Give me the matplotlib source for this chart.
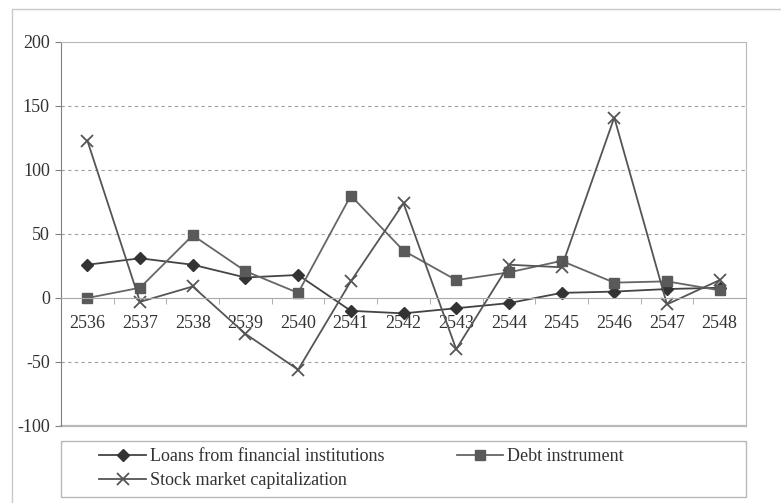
import matplotlib
matplotlib.use("Agg")
import matplotlib.pyplot as plt
from matplotlib.patches import Rectangle

years = ["2536", "2537", "2538", "2539", "2540", "2541", "2542",
         "2543", "2544", "2545", "2546", "2547", "2548"]
loans = [26, 31, 26, 16, 18, -10, -12, -8, -4, 4, 5, 7, 8]
debt = [0, 8, 49, 21, 4, 80, 37, 14, 20, 29, 12, 13, 6]
stock = [123, -3, 9, -28, -56, 13, 74, -40, 26, 24, 141, -5, 14]

plt.rcParams["font.family"] = ["Liberation Serif", "DejaVu Serif"]
plt.rcParams["font.size"] = 13

fig = plt.figure(figsize=(7.81, 5.03), dpi=100)
W, H = 781, 503
ax = fig.add_axes([61 / W, 1 - 426 / H, 685 / W, 384 / H])

# outer chart border (cut off at right/bottom in the scan)
fig.patches.append(Rectangle((12 / W, -0.1), 1.2, 1 - 9 / H + 0.1,
                             transform=fig.transFigure, fill=False,
                             edgecolor="#c8c8c8", linewidth=1.0))

x = list(range(len(years)))
ax.plot(x, loans, color="#444444", lw=1.3, marker="D", ms=6,
        mfc="#333333", mec="#333333", label="Loans from financial institutions")
ax.plot(x, debt, color="#666666", lw=1.3, marker="s", ms=6.5,
        mfc="#5a5a5a", mec="#5a5a5a", label="Debt instrument")
ax.plot(x, stock, color="#555555", lw=1.3, marker="x", ms=9, mew=1.3,
        label="Stock market capitalization")

ax.set_xlim(-0.5, len(years) - 0.5)
ax.set_ylim(-100, 200)
ax.set_yticks([-100, -50, 0, 50, 100, 150, 200])
ax.set_yticklabels(["-100", "-50", "0", "50", "100", "150", "200"])
for v in [-50, 50, 100, 150]:
    ax.axhline(v, color="#a0a0a0", lw=0.8, ls=(0, (3, 3)), zorder=0)

ax.spines["bottom"].set_position(("data", 0))
ax.spines["bottom"].set_color("#a8a8a8")
ax.spines["top"].set_color("#b8b8b8")
ax.spines["right"].set_color("#b8b8b8")
ax.spines["left"].set_color("#808080")
ax.axhline(-100, color="#b8b8b8", lw=1.6, clip_on=False)

ax.set_xticks(x)
ax.set_xticklabels(years)
ax.set_xticks([i - 0.5 for i in range(len(years) + 1)], minor=True)
ax.tick_params(axis="x", which="major", length=0, pad=12, labelsize=13,
               labelcolor="#333333")
ax.tick_params(axis="x", which="minor", length=4, direction="out", color="#a0a0a0")
ax.tick_params(axis="y", length=4, direction="out", color="#808080", pad=4,
               labelsize=13, labelcolor="#333333")

# legend box
fig.patches.append(Rectangle((61 / W, 1 - 497 / H), 685 / W, 56 / H,
                             transform=fig.transFigure, fill=False,
                             edgecolor="#b8b8b8", linewidth=1.0))
h, l = ax.get_legend_handles_labels()
fig.legend([h[0], h[2], h[1]], [l[0], l[2], l[1]], ncol=2, frameon=False,
           loc="upper left", bbox_to_anchor=(83 / W, 1 - 432 / H),
           fontsize=13, handlelength=2.6, handletextpad=0.2,
           columnspacing=4.0, labelspacing=0.4, labelcolor="#333333")

fig.savefig("out.png", dpi=100)
